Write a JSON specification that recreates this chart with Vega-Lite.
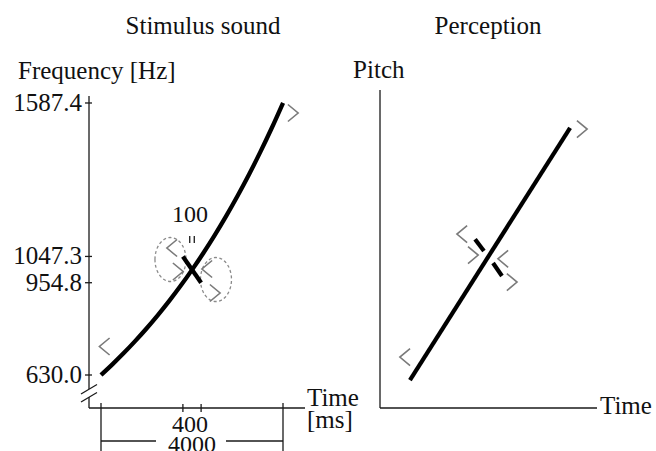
{
  "$schema": "https://vega.github.io/schema/vega-lite/v6.json",
  "width": 656,
  "height": 451,
  "padding": 0,
  "autosize": {"type": "none"},
  "background": "white",
  "config": {"view": {"stroke": null}},
  "datasets": {
    "left_rules": [
      {"part": "y axis", "t": -263.7, "f": 1612.0, "t2": -263.7, "f2": 580.7},
      {"part": "y axis", "t": -263.7, "f": 552.6, "t2": -263.7, "f2": 513.8},
      {"part": "x axis", "t": -263.7, "f": 513.8, "t2": 4483.5, "f2": 513.8},
      {"part": "break", "t": -439.6, "f": 563.1, "t2": -87.9, "f2": 596.6},
      {"part": "break", "t": -439.6, "f": 535.0, "t2": -87.9, "f2": 568.4},
      {"part": "y tick", "t": -351.6, "f": 630.0, "t2": -197.8, "f2": 630.0},
      {"part": "y tick", "t": -351.6, "f": 954.8, "t2": -197.8, "f2": 954.8},
      {"part": "y tick", "t": -351.6, "f": 1047.3, "t2": -197.8, "f2": 1047.3},
      {"part": "y tick", "t": -351.6, "f": 1587.4, "t2": -197.8, "f2": 1587.4},
      {"part": "x tick", "t": 1800, "f": 527.9, "t2": 1800, "f2": 499.8},
      {"part": "x tick", "t": 2200, "f": 527.9, "t2": 2200, "f2": 499.8},
      {"part": "dimension", "t": 0, "f": 531.4, "t2": 0, "f2": 348.0},
      {"part": "dimension", "t": 4000, "f": 531.4, "t2": 4000, "f2": 348.0},
      {"part": "dimension", "t": 0, "f": 397.7, "t2": 1208.8, "f2": 397.7},
      {"part": "dimension", "t": 2747.3, "f": 397.7, "t2": 4000, "f2": 397.7},
      {"part": "gap", "t": 1950, "f": 1119.3, "t2": 1950, "f2": 1094.6},
      {"part": "gap", "t": 2050, "f": 1119.3, "t2": 2050, "f2": 1094.6}
    ],
    "long_glide": [
      {"t": 0, "f": 630.0}, {"t": 250, "f": 667.5}, {"t": 500, "f": 707.1},
      {"t": 750, "f": 749.2}, {"t": 1000, "f": 793.7}, {"t": 1250, "f": 841.0},
      {"t": 1500, "f": 891.0}, {"t": 1750, "f": 943.9}, {"t": 2000, "f": 1000.1},
      {"t": 2250, "f": 1059.5}, {"t": 2500, "f": 1122.5}, {"t": 2750, "f": 1189.3},
      {"t": 3000, "f": 1260.0}, {"t": 3250, "f": 1334.9}, {"t": 3500, "f": 1414.3},
      {"t": 3750, "f": 1498.4}, {"t": 4000, "f": 1587.4}
    ],
    "short_glide": [
      {"t": 1800, "f": 1047.3}, {"t": 2200, "f": 954.8}
    ],
    "left_marks": [
      {"dir": "<", "t": 77, "f": 730.3},
      {"dir": ">", "t": 4220, "f": 1552.2},
      {"dir": "<", "t": 1560, "f": 1077.0},
      {"dir": ">", "t": 1692, "f": 994.3},
      {"dir": "<", "t": 2330, "f": 1003.1},
      {"dir": ">", "t": 2505, "f": 918.6}
    ],
    "left_circles": [
      {"t": 1527, "f": 1036.5}, {"t": 2527, "f": 966.1}
    ],
    "left_tick_labels": [
      {"label": "630.0", "t": -417.6, "f": 630.0},
      {"label": "954.8", "t": -417.6, "f": 954.8},
      {"label": "1047.3", "t": -417.6, "f": 1047.3},
      {"label": "1587.4", "t": -417.6, "f": 1587.4}
    ],
    "left_text_left": [
      {"label": "Frequency [Hz]", "t": -1824.2, "f": 1671.9},
      {"label": "Time", "t": 4527.5, "f": 520.9},
      {"label": "[ms]", "t": 4527.5, "f": 443.4}
    ],
    "left_title": [
      {"label": "Stimulus sound", "t": 2241.8, "f": 1830.3}
    ],
    "left_dims": [
      {"label": "100", "t": 1956, "f": 1168.5},
      {"label": "400", "t": 1956, "f": 429.4},
      {"label": "4000", "t": 2000, "f": 359.0}
    ],
    "right_axes": [
      {"part": "y axis", "u": 0, "v": 100, "u2": 0, "v2": 0},
      {"part": "x axis", "u": 0, "v": 0, "u2": 100, "v2": 0}
    ],
    "right_glides": [
      {"glide": "long", "u": 13.8, "v": 8.8, "u2": 87.6, "v2": 88.1},
      {"glide": "short part 1", "u": 43.8, "v": 53.1, "u2": 47.9, "v2": 49.4},
      {"glide": "short part 2", "u": 52.1, "v": 45.6, "u2": 56.2, "v2": 41.5}
    ],
    "right_marks": [
      {"dir": "<", "u": 11.5, "v": 16.0},
      {"dir": ">", "u": 93.1, "v": 87.7},
      {"dir": "<", "u": 37.8, "v": 54.7},
      {"dir": ">", "u": 42.9, "v": 48.1},
      {"dir": "<", "u": 56.7, "v": 46.9},
      {"dir": ">", "u": 60.8, "v": 39.6}
    ],
    "right_text_left": [
      {"label": "Pitch", "u": -12.4, "v": 103.8},
      {"label": "Time", "u": 101.4, "v": -1.9}
    ],
    "right_title": [
      {"label": "Perception", "u": 49.8, "v": 117.6}
    ]
  },
  "layer": [
    {
      "encoding": {
        "x": {"field": "t", "type": "quantitative", "scale": {"domain": [-2219.8, 12197.8], "nice": false, "zero": false}, "axis": null},
        "y": {"field": "f", "type": "quantitative", "scale": {"domain": [362.5, 1949.9], "nice": false, "zero": false}, "axis": null}
      },
      "layer": [
        {
          "data": {"name": "left_rules"},
          "mark": {"type": "rule", "stroke": "#1a1a1a", "strokeWidth": 1.3},
          "encoding": {"x2": {"field": "t2"}, "y2": {"field": "f2"}}
        },
        {
          "data": {"name": "left_circles"},
          "mark": {"type": "point", "filled": false, "shape": "M -0.705,0 A 0.705,1 0 1,1 0.705,0 A 0.705,1 0 1,1 -0.705,0 Z", "size": 1936, "stroke": "#8a8a8a", "strokeWidth": 1.3, "strokeDash": [3, 2.5], "opacity": 1}
        },
        {
          "data": {"name": "left_marks"},
          "mark": {"type": "point", "filled": false, "size": 289, "stroke": "#7a7a7a", "strokeWidth": 1.6, "opacity": 1},
          "encoding": {"shape": {"field": "dir", "type": "nominal", "scale": {"domain": ["<", ">"], "range": ["M 0.6,-1 L -0.6,0 L 0.6,1", "M -0.6,-1 L 0.6,0 L -0.6,1"]}, "legend": null}}
        },
        {
          "data": {"name": "long_glide"},
          "mark": {"type": "line", "color": "black", "strokeWidth": 4.3, "interpolate": "monotone", "strokeCap": "butt"}
        },
        {
          "data": {"name": "short_glide"},
          "mark": {"type": "line", "color": "black", "strokeWidth": 4.3, "strokeCap": "butt"}
        },
        {
          "data": {"name": "left_tick_labels"},
          "mark": {"type": "text", "align": "right", "baseline": "middle", "font": "Liberation Serif", "fontSize": 25, "color": "#111"},
          "encoding": {"text": {"field": "label"}}
        },
        {
          "data": {"name": "left_text_left"},
          "mark": {"type": "text", "align": "left", "baseline": "alphabetic", "font": "Liberation Serif", "fontSize": 25, "color": "#111"},
          "encoding": {"text": {"field": "label"}}
        },
        {
          "data": {"name": "left_title"},
          "mark": {"type": "text", "align": "center", "baseline": "alphabetic", "font": "Liberation Serif", "fontSize": 25, "color": "#111"},
          "encoding": {"text": {"field": "label"}}
        },
        {
          "data": {"name": "left_dims"},
          "mark": {"type": "text", "align": "center", "baseline": "alphabetic", "font": "Liberation Serif", "fontSize": 24, "color": "#111"},
          "encoding": {"text": {"field": "label"}}
        }
      ]
    },
    {
      "encoding": {
        "x": {"field": "u", "type": "quantitative", "scale": {"domain": [-175.12, 127.19], "nice": false, "zero": false}, "axis": null},
        "y": {"field": "v", "type": "quantitative", "scale": {"domain": [-13.52, 128.3], "nice": false, "zero": false}, "axis": null}
      },
      "layer": [
        {
          "data": {"name": "right_axes"},
          "mark": {"type": "rule", "stroke": "#1a1a1a", "strokeWidth": 1.3},
          "encoding": {"x2": {"field": "u2"}, "y2": {"field": "v2"}}
        },
        {
          "data": {"name": "right_marks"},
          "mark": {"type": "point", "filled": false, "size": 289, "stroke": "#7a7a7a", "strokeWidth": 1.6, "opacity": 1},
          "encoding": {"shape": {"field": "dir", "type": "nominal", "scale": {"domain": ["<", ">"], "range": ["M 0.6,-1 L -0.6,0 L 0.6,1", "M -0.6,-1 L 0.6,0 L -0.6,1"]}, "legend": null}}
        },
        {
          "data": {"name": "right_glides"},
          "mark": {"type": "rule", "stroke": "black", "strokeWidth": 4.2, "strokeCap": "butt"},
          "encoding": {"x2": {"field": "u2"}, "y2": {"field": "v2"}}
        },
        {
          "data": {"name": "right_text_left"},
          "mark": {"type": "text", "align": "left", "baseline": "alphabetic", "font": "Liberation Serif", "fontSize": 25, "color": "#111"},
          "encoding": {"text": {"field": "label"}}
        },
        {
          "data": {"name": "right_title"},
          "mark": {"type": "text", "align": "center", "baseline": "alphabetic", "font": "Liberation Serif", "fontSize": 25, "color": "#111"},
          "encoding": {"text": {"field": "label"}}
        }
      ]
    }
  ],
  "resolve": {"scale": {"x": "independent", "y": "independent"}}
}
